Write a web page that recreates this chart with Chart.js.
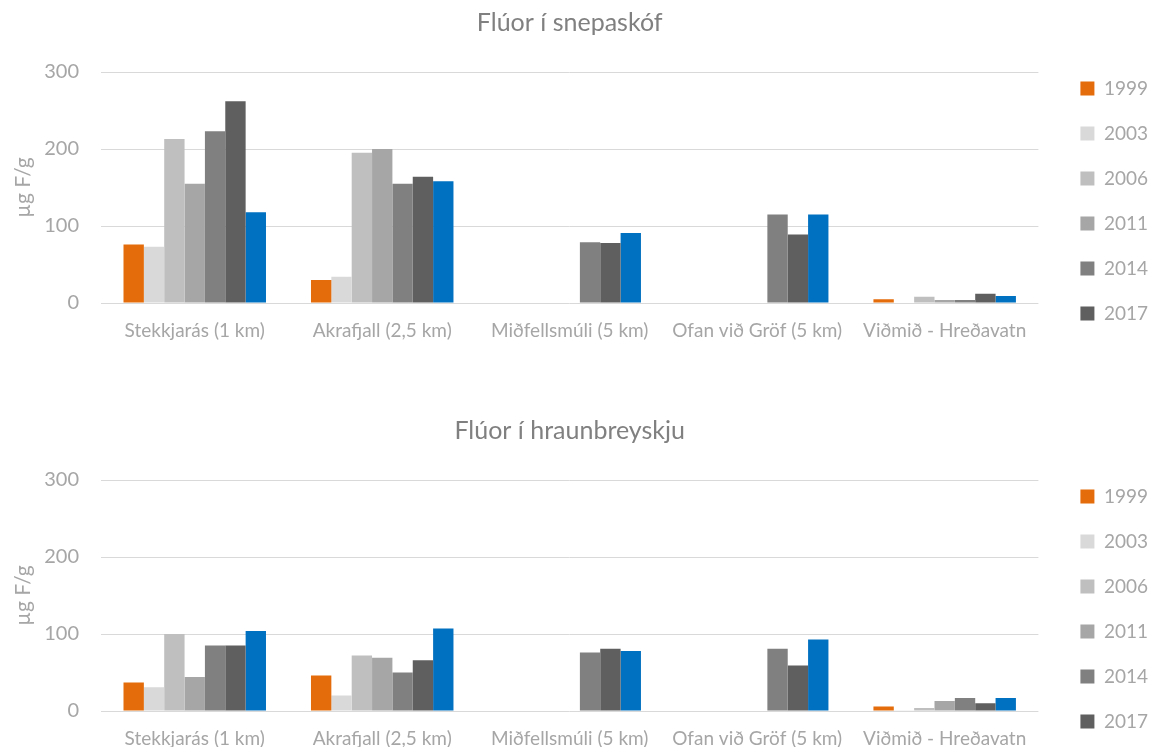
<!DOCTYPE html>
<html lang="is">
<head>
<meta charset="UTF-8">
<title>Flúor</title>
<script src="https://cdn.jsdelivr.net/npm/chart.js"></script>
<style>
    html, body { margin: 0; padding: 0; background: #fff; overflow: hidden; }
    .panel { width: 1154px; height: 408px; }
</style>
</head>
<body>
<div class="panel"><canvas id="chartSkof" width="1154" height="408"></canvas></div>
<div class="panel"><canvas id="chartHraun" width="1154" height="408"></canvas></div>
<script>
    const categories = ['Stekkjarás (1 km)', 'Akrafjall (2,5 km)', 'Miðfellsmúli (5 km)', 'Ofan við Gröf (5 km)', 'Viðmið - Hreðavatn'];
    const years = ['1999', '2003', '2006', '2011', '2014', '2017', '2020'];
    const yTicks = [0, 100, 200, 300];

    // snepaskóf
    const skof1999 = [76, 30, null, null, 5];
    const skof2003 = [73, 34, null, null, null];
    const skof2006 = [213, 195, null, null, 8];
    const skof2011 = [155, 200, null, null, 4];
    const skof2014 = [223, 155, 79, 115, 4];
    const skof2017 = [262, 164, 78, 89, 12];
    const skof2020 = [118, 158, 91, 115, 9];

    // hraunbreyskja
    const hraun1999 = [37, 46, null, null, 6];
    const hraun2003 = [31, 20, null, null, 1];
    const hraun2006 = [100, 72, null, null, 4];
    const hraun2011 = [44, 69, null, null, 13];
    const hraun2014 = [85, 50, 76, 81, 17];
    const hraun2017 = [85, 66, 81, 59, 10];
    const hraun2020 = [104, 107, 78, 93, 17];

    const colors = ['#E46C0A', '#D9D9D9', '#BFBFBF', '#A6A6A6', '#808080', '#5F5F5F', '#0070C0'];
    const FONT = 'Lato, "Open Sans", sans-serif';
    const textGray = '#A6A6A6';

    function makeChart(id, title, series) {
        const datasets = series.map((values, i) => ({
            label: years[i],
            data: values,
            backgroundColor: colors[i],
            borderWidth: 0,
            barPercentage: 1.0,
            categoryPercentage: 0.76
        }));

        return new Chart(document.getElementById(id), {
            type: 'bar',
            data: { labels: categories, datasets: datasets },
            options: {
                responsive: false,
                animation: false,
                layout: { padding: { bottom: 6, right: -4 } },
                plugins: {
                    title: {
                        display: true,
                        text: title,
                        fullSize: false,
                        color: '#808080',
                        font: { family: FONT, size: 25, weight: 'normal' },
                        padding: { top: 8, bottom: 34 }
                    },
                    legend: {
                        position: 'right',
                        align: 'center',
                        labels: {
                            filter: item => item.datasetIndex < 6,
                            boxWidth: 14,
                            boxHeight: 14,
                            padding: 26,
                            color: textGray,
                            font: { family: FONT, size: 19 }
                        }
                    },
                    tooltip: { enabled: false }
                },
                scales: {
                    x: {
                        grid: { display: false },
                        border: { display: false },
                        ticks: {
                            color: textGray,
                            font: { family: FONT, size: 19 },
                            padding: 8,
                            maxRotation: 0
                        },
                        afterFit: s => { s.height = 99; }
                    },
                    y: {
                        min: 0,
                        max: 300,
                        afterBuildTicks: s => { s.ticks = yTicks.map(v => ({ value: v })); },
                        grid: { color: '#D9D9D9', lineWidth: 1, drawTicks: false },
                        border: { display: false },
                        ticks: {
                            color: textGray,
                            font: { family: FONT, size: 20 },
                            padding: 22
                        },
                        title: {
                            display: true,
                            text: 'µg F/g',
                            color: textGray,
                            font: { family: FONT, size: 21 },
                            padding: { top: 11, bottom: 0 }
                        },
                        afterFit: s => { s.width = 101; }
                    },
                    // empty strip between plot and legend
                    gap: {
                        position: 'right',
                        display: true,
                        grid: { display: false },
                        border: { display: false },
                        ticks: { display: false },
                        afterFit: s => { s.width = 16; }
                    }
                }
            }
        });
    }

    makeChart('chartSkof', 'Flúor í snepaskóf',
        [skof1999, skof2003, skof2006, skof2011, skof2014, skof2017, skof2020]);
    makeChart('chartHraun', 'Flúor í hraunbreyskju',
        [hraun1999, hraun2003, hraun2006, hraun2011, hraun2014, hraun2017, hraun2020]);
</script>
</body>
</html>
